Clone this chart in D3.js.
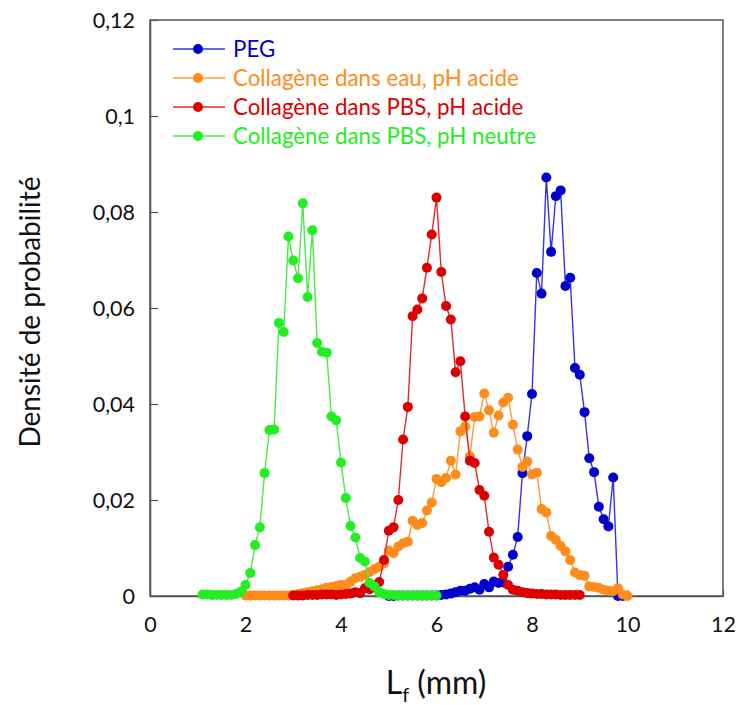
<!DOCTYPE html>
<html>
<head>
<meta charset="utf-8">
<script src="https://cdn.jsdelivr.net/npm/d3@7"></script>
<style>
  html, body { margin: 0; padding: 0; background: #fff; }
  svg { display: block; font-family: Lato, "Noto Sans", sans-serif; }
</style>
</head>
<body>
<svg id="chart" width="738" height="705"></svg>
<script>
// ---- Data ----
const xTicks = [0, 2, 4, 6, 8, 10, 12];
const yTicks = [0, 0.02, 0.04, 0.06, 0.08, 0.1, 0.12];
const yTickLabels = ["0", "0,02", "0,04", "0,06", "0,08", "0,1", "0,12"];
const seriesNames = ["PEG", "Collagène dans eau, pH acide", "Collagène dans PBS, pH acide", "Collagène dans PBS, pH neutre"];

// PEG : x from 5.0 to 9.9 step 0.1
const pegX = [5.0,5.1,5.2,5.3,5.4,5.5,5.6,5.7,5.8,5.9,6.0,6.1,6.2,6.3,6.4,6.5,6.6,6.7,6.8,6.9,7.0,7.1,7.2,7.3,7.4,7.5,7.6,7.7,7.8,7.9,8.0,8.1,8.2,8.3,8.4,8.5,8.6,8.7,8.8,8.9,9.0,9.1,9.2,9.3,9.4,9.5,9.6,9.7,9.8,9.9];
const pegY = [0.0000,0.0000,0.0001,0.0001,0.0001,0.0001,0.0001,0.0001,0.0001,0.0001,0.0001,0.0002,0.0003,0.0005,0.0008,0.0011,0.0011,0.0015,0.0018,0.0013,0.0025,0.0018,0.0030,0.0027,0.0028,0.0061,0.0086,0.0123,0.0256,0.0333,0.0421,0.0673,0.0630,0.0872,0.0717,0.0833,0.0845,0.0646,0.0663,0.0475,0.0461,0.0383,0.0287,0.0258,0.0186,0.0160,0.0145,0.0247,0.0000,0.0000];

// Collagène dans eau, pH acide : x from 2.0 to 10.0 step 0.1
const eauX = [2.0,2.1,2.2,2.3,2.4,2.5,2.6,2.7,2.8,2.9,3.0,3.1,3.2,3.3,3.4,3.5,3.6,3.7,3.8,3.9,4.0,4.1,4.2,4.3,4.4,4.5,4.6,4.7,4.8,4.9,5.0,5.1,5.2,5.3,5.4,5.5,5.6,5.7,5.8,5.9,6.0,6.1,6.2,6.3,6.4,6.5,6.6,6.7,6.8,6.9,7.0,7.1,7.2,7.3,7.4,7.5,7.6,7.7,7.8,7.9,8.0,8.1,8.2,8.3,8.4,8.5,8.6,8.7,8.8,8.9,9.0,9.1,9.2,9.3,9.4,9.5,9.6,9.7,9.8,9.9,10.0];
const eauY = [0.0001,0.0001,0.0001,0.0001,0.0001,0.0001,0.0001,0.0001,0.0001,0.0001,0.0002,0.0004,0.0006,0.0008,0.0010,0.0012,0.0014,0.0017,0.0019,0.0021,0.0023,0.0023,0.0030,0.0037,0.0040,0.0044,0.0050,0.0056,0.0061,0.0068,0.0095,0.0089,0.0103,0.0110,0.0113,0.0157,0.0148,0.0152,0.0178,0.0195,0.0244,0.0237,0.0246,0.0282,0.0253,0.0343,0.0353,0.0291,0.0373,0.0374,0.0422,0.0387,0.0340,0.0376,0.0403,0.0413,0.0357,0.0305,0.0269,0.0280,0.0253,0.0257,0.0181,0.0174,0.0125,0.0117,0.0104,0.0093,0.0075,0.0049,0.0044,0.0042,0.0020,0.0019,0.0017,0.0013,0.0011,0.0010,0.0016,0.0003,0.0000];

// Collagène dans PBS, pH acide : x from 3.0 to 9.0 step 0.1
const pbsAX = [3.0,3.1,3.2,3.3,3.4,3.5,3.6,3.7,3.8,3.9,4.0,4.1,4.2,4.3,4.4,4.5,4.6,4.7,4.8,4.9,5.0,5.1,5.2,5.3,5.4,5.5,5.6,5.7,5.8,5.9,6.0,6.1,6.2,6.3,6.4,6.5,6.6,6.7,6.8,6.9,7.0,7.1,7.2,7.3,7.4,7.5,7.6,7.7,7.8,7.9,8.0,8.1,8.2,8.3,8.4,8.5,8.6,8.7,8.8,8.9,9.0];
const pbsAY = [0.0001,0.0001,0.0001,0.0002,0.0002,0.0002,0.0003,0.0003,0.0003,0.0002,0.0003,0.0004,0.0005,0.0008,0.0006,0.0016,0.0014,0.0020,0.0029,0.0075,0.0136,0.0143,0.0200,0.0326,0.0394,0.0583,0.0597,0.0620,0.0684,0.0753,0.0830,0.0675,0.0604,0.0576,0.0466,0.0489,0.0374,0.0282,0.0277,0.0221,0.0209,0.0134,0.0080,0.0065,0.0044,0.0023,0.0013,0.0011,0.0008,0.0006,0.0005,0.0004,0.0004,0.0003,0.0003,0.0003,0.0002,0.0002,0.0002,0.0002,0.0002];

// Collagène dans PBS, pH neutre : x from 1.1 to 6.0 step 0.1
const pbsNX = [1.1,1.2,1.3,1.4,1.5,1.6,1.7,1.8,1.9,2.0,2.1,2.2,2.3,2.4,2.5,2.6,2.7,2.8,2.9,3.0,3.1,3.2,3.3,3.4,3.5,3.6,3.7,3.8,3.9,4.0,4.1,4.2,4.3,4.4,4.5,4.6,4.7,4.8,4.9,5.0,5.1,5.2,5.3,5.4,5.5,5.6,5.7,5.8,5.9,6.0];
const pbsNY = [0.0003,0.0003,0.0002,0.0002,0.0002,0.0002,0.0002,0.0004,0.0009,0.0023,0.0048,0.0106,0.0143,0.0256,0.0346,0.0347,0.0569,0.0550,0.0749,0.0699,0.0662,0.0818,0.0623,0.0762,0.0527,0.0509,0.0507,0.0374,0.0366,0.0278,0.0204,0.0146,0.0122,0.0079,0.0072,0.0027,0.0020,0.0008,0.0004,0.0002,0.0002,0.0001,0.0001,0.0001,0.0001,0.0001,0.0001,0.0001,0.0001,0.0001];

const markerColors = ["#0000cc", "#ff8c1a", "#dd0000", "#22ee22"];
const lineColors   = ["#3535e8", "#ff9a3a", "#e02a2a", "#44ee44"];

// ---- Build series ----
const allX = [pegX, eauX, pbsAX, pbsNX];
const allY = [pegY, eauY, pbsAY, pbsNY];
const series = seriesNames.map((name, i) => ({
  name, color: markerColors[i], lineColor: lineColors[i],
  points: allX[i].map((x, j) => ({x, y: allY[i][j]}))
}));

// ---- Layout ----
const svg = d3.select("#chart");
const mLeft = 150, mRight = 723, mTop = 20, mBottom = 596;
const x = d3.scaleLinear().domain([0, 12]).range([mLeft, mRight]);
const y = d3.scaleLinear().domain([0, 0.12]).range([mBottom, mTop]);
const axisColor = "#555";

// Frame
svg.append("rect").attr("x", mLeft).attr("y", mTop)
  .attr("width", mRight - mLeft).attr("height", mBottom - mTop)
  .attr("fill", "none").attr("stroke", axisColor).attr("stroke-width", 1.5);

// Axes (inward ticks)
const xAxis = d3.axisBottom(x).tickValues(xTicks).tickSizeInner(-6).tickSizeOuter(0).tickPadding(21)
  .tickFormat(d => String(d));
const gx = svg.append("g").attr("transform", `translate(0,${mBottom})`).call(xAxis);
const yAxis = d3.axisLeft(y).tickValues(yTicks).tickSizeInner(-8).tickSizeOuter(0).tickPadding(15)
  .tickFormat((d, i) => yTickLabels[i]);
const gy = svg.append("g").attr("transform", `translate(${mLeft},0)`).call(yAxis);
[gx, gy].forEach(g => {
  g.select(".domain").attr("stroke", axisColor).attr("stroke-width", 1.5);
  g.selectAll(".tick line").attr("stroke", axisColor).attr("stroke-width", 1.2);
  g.selectAll(".tick text").attr("fill", "#111").style("font-size", "21.5px")
    .style("font-family", "Lato, 'Noto Sans', sans-serif");
});
gx.selectAll(".tick text").attr("dy", "0.71em");
gy.selectAll(".tick text").attr("dy", "0.35em");

// Series lines and markers
const line = d3.line().x(d => x(d.x)).y(d => y(d.y));
series.forEach(s => {
  const g = svg.append("g");
  g.append("path").datum(s.points).attr("d", line)
    .attr("fill", "none").attr("stroke", s.lineColor).attr("stroke-width", 1.4);
  g.selectAll("circle").data(s.points).join("circle")
    .attr("cx", d => x(d.x)).attr("cy", d => y(d.y)).attr("r", 5)
    .attr("fill", s.color);
});

// Legend
const legend = svg.append("g");
series.forEach((s, i) => {
  const ly = 49 + i * 29;
  legend.append("line").attr("x1", 173).attr("x2", 225).attr("y1", ly).attr("y2", ly)
    .attr("stroke", s.lineColor).attr("stroke-width", 1.4);
  legend.append("circle").attr("cx", 198).attr("cy", ly).attr("r", 5).attr("fill", s.color);
  legend.append("text").attr("x", 233).attr("y", ly).attr("dy", "0.36em")
    .attr("fill", s.color).style("font-size", "22.3px").text(s.name);
});

// Axis titles
const xt = svg.append("text").attr("x", 436).attr("y", 694).attr("text-anchor", "middle")
  .attr("fill", "#111").style("font-size", "32px");
xt.append("tspan").text("L");
xt.append("tspan").attr("dy", 8).style("font-size", "20px").text("f");
xt.append("tspan").attr("dy", -8).text(" (mm)");

svg.append("text").attr("transform", `translate(40,312) rotate(-90)`)
  .attr("text-anchor", "middle").attr("fill", "#111").style("font-size", "28px")
  .text("Densité de probabilité");
</script>
</body>
</html>
